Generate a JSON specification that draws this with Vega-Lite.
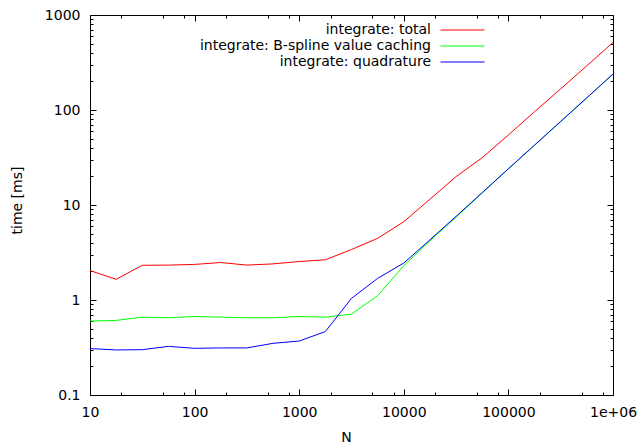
{
  "$schema": "https://vega.github.io/schema/vega-lite/v6.json",
  "width": 523,
  "height": 380,
  "autosize": {"type": "none"},
  "padding": {"left": 90, "top": 15, "right": 26, "bottom": 49},
  "background": "white",
  "config": {
    "view": {"stroke": "#000000", "strokeWidth": 1},
    "font": "DejaVu Sans",
    "axis": {"grid": false, "domain": false, "tickColor": "#000000", "labelColor": "#000000", "titleColor": "#000000", "labelFont": "DejaVu Sans", "titleFont": "DejaVu Sans", "labelFontSize": 14, "titleFontSize": 14, "titleFontWeight": "normal", "labelOverlap": false, "labelFlush": false, "labelBound": false},
    "legend": {"labelFont": "DejaVu Sans", "labelFontSize": 14, "labelColor": "#000000"}
  },
  "data": {
    "values": [
      {"N": 10, "t": 2.04, "s": "integrate: total"},
      {"N": 17.78, "t": 1.65, "s": "integrate: total"},
      {"N": 31.62, "t": 2.32, "s": "integrate: total"},
      {"N": 56.23, "t": 2.33, "s": "integrate: total"},
      {"N": 100, "t": 2.37, "s": "integrate: total"},
      {"N": 177.8, "t": 2.48, "s": "integrate: total"},
      {"N": 316.2, "t": 2.33, "s": "integrate: total"},
      {"N": 562.3, "t": 2.4, "s": "integrate: total"},
      {"N": 1000, "t": 2.54, "s": "integrate: total"},
      {"N": 1778, "t": 2.65, "s": "integrate: total"},
      {"N": 3162, "t": 3.4, "s": "integrate: total"},
      {"N": 5623, "t": 4.46, "s": "integrate: total"},
      {"N": 10000, "t": 6.67, "s": "integrate: total"},
      {"N": 17783, "t": 11.5, "s": "integrate: total"},
      {"N": 31623, "t": 19.9, "s": "integrate: total"},
      {"N": 56234, "t": 31.5, "s": "integrate: total"},
      {"N": 100000, "t": 54.6, "s": "integrate: total"},
      {"N": 177828, "t": 96, "s": "integrate: total"},
      {"N": 316228, "t": 167, "s": "integrate: total"},
      {"N": 562341, "t": 292, "s": "integrate: total"},
      {"N": 1000000, "t": 515, "s": "integrate: total"},
      {"N": 10, "t": 0.60, "s": "integrate: B-spline value caching"},
      {"N": 17.78, "t": 0.61, "s": "integrate: B-spline value caching"},
      {"N": 31.62, "t": 0.66, "s": "integrate: B-spline value caching"},
      {"N": 56.23, "t": 0.65, "s": "integrate: B-spline value caching"},
      {"N": 100, "t": 0.67, "s": "integrate: B-spline value caching"},
      {"N": 177.8, "t": 0.66, "s": "integrate: B-spline value caching"},
      {"N": 316.2, "t": 0.65, "s": "integrate: B-spline value caching"},
      {"N": 562.3, "t": 0.65, "s": "integrate: B-spline value caching"},
      {"N": 1000, "t": 0.67, "s": "integrate: B-spline value caching"},
      {"N": 1778, "t": 0.66, "s": "integrate: B-spline value caching"},
      {"N": 3162, "t": 0.71, "s": "integrate: B-spline value caching"},
      {"N": 5623, "t": 1.11, "s": "integrate: B-spline value caching"},
      {"N": 10000, "t": 2.3, "s": "integrate: B-spline value caching"},
      {"N": 17783, "t": 4.2, "s": "integrate: B-spline value caching"},
      {"N": 31623, "t": 7.45, "s": "integrate: B-spline value caching"},
      {"N": 56234, "t": 13.4, "s": "integrate: B-spline value caching"},
      {"N": 100000, "t": 24, "s": "integrate: B-spline value caching"},
      {"N": 177828, "t": 42.6, "s": "integrate: B-spline value caching"},
      {"N": 316228, "t": 75.6, "s": "integrate: B-spline value caching"},
      {"N": 562341, "t": 134, "s": "integrate: B-spline value caching"},
      {"N": 1000000, "t": 239, "s": "integrate: B-spline value caching"},
      {"N": 10, "t": 0.308, "s": "integrate: quadrature"},
      {"N": 17.78, "t": 0.298, "s": "integrate: quadrature"},
      {"N": 31.62, "t": 0.30, "s": "integrate: quadrature"},
      {"N": 56.23, "t": 0.325, "s": "integrate: quadrature"},
      {"N": 100, "t": 0.31, "s": "integrate: quadrature"},
      {"N": 177.8, "t": 0.313, "s": "integrate: quadrature"},
      {"N": 316.2, "t": 0.313, "s": "integrate: quadrature"},
      {"N": 562.3, "t": 0.35, "s": "integrate: quadrature"},
      {"N": 1000, "t": 0.37, "s": "integrate: quadrature"},
      {"N": 1778, "t": 0.465, "s": "integrate: quadrature"},
      {"N": 3162, "t": 1.04, "s": "integrate: quadrature"},
      {"N": 5623, "t": 1.69, "s": "integrate: quadrature"},
      {"N": 10000, "t": 2.45, "s": "integrate: quadrature"},
      {"N": 17783, "t": 4.3, "s": "integrate: quadrature"},
      {"N": 31623, "t": 7.6, "s": "integrate: quadrature"},
      {"N": 56234, "t": 13.5, "s": "integrate: quadrature"},
      {"N": 100000, "t": 24.1, "s": "integrate: quadrature"},
      {"N": 177828, "t": 42.7, "s": "integrate: quadrature"},
      {"N": 316228, "t": 75.8, "s": "integrate: quadrature"},
      {"N": 562341, "t": 134.5, "s": "integrate: quadrature"},
      {"N": 1000000, "t": 239, "s": "integrate: quadrature"}
    ]
  },
  "layer": [
    {
      "mark": {"type": "line", "strokeWidth": 1, "clip": true},
      "encoding": {
        "x": {
          "field": "N", "type": "quantitative",
          "scale": {"type": "log", "domain": [10, 1000000], "nice": false},
          "axis": {
            "orient": "bottom", "title": "N", "titlePadding": 8, "titleX": 256,
            "values": [10, 20, 50, 80, 100, 200, 500, 800, 1000, 2000, 5000, 8000, 10000, 20000, 50000, 80000, 100000, 200000, 500000, 800000, 1000000],
            "labelExpr": "indexof([10,100,1000,10000,100000], datum.value) >= 0 ? format(datum.value, 'd') : (datum.value == 1000000 ? '1e+06' : '')",
            "tickSize": {"condition": {"test": "indexof([10,100,1000,10000,100000,1000000], datum.value) >= 0", "value": -6}, "value": -3},
            "labelPadding": 16
          }
        },
        "y": {
          "field": "t", "type": "quantitative",
          "scale": {"type": "log", "domain": [0.1, 1000], "nice": false},
          "axis": {
            "orient": "left", "title": "time [ms]", "titlePadding": 20, "titleY": 185,
            "values": [0.1, 0.2, 0.3, 0.4, 0.5, 0.6, 0.7, 0.8, 0.9, 1, 2, 3, 4, 5, 6, 7, 8, 9, 10, 20, 30, 40, 50, 60, 70, 80, 90, 100, 200, 300, 400, 500, 600, 700, 800, 900, 1000],
            "labelExpr": "datum.value == 0.1 ? '0.1' : (indexof([1,10,100,1000], datum.value) >= 0 ? format(datum.value, 'd') : '')",
            "tickSize": {"condition": {"test": "indexof([0.1,1,10,100,1000], datum.value) >= 0", "value": -6}, "value": -3},
            "labelPadding": 16
          }
        },
        "color": {
          "field": "s", "type": "nominal",
          "scale": {"domain": ["integrate: total", "integrate: B-spline value caching", "integrate: quadrature"], "range": ["#ff0000", "#00ff00", "#0000ff"]},
          "legend": {
            "title": null, "orient": "none", "legendX": 365.5, "legendY": 8,
            "symbolType": "M-4,0H4", "symbolSize": 121, "symbolStrokeWidth": 1, "symbolFillColor": "transparent",
            "labelAlign": "right", "labelOffset": -38.5, "rowPadding": 2, "labelLimit": 400
          }
        }
      }
    },
    {
      "mark": {"type": "point", "opacity": 0},
      "encoding": {
        "x": {
          "field": "N", "type": "quantitative",
          "axis": {
            "orient": "top", "title": null, "labels": false,
            "values": [10, 20, 50, 80, 100, 200, 500, 800, 1000, 2000, 5000, 8000, 10000, 20000, 50000, 80000, 100000, 200000, 500000, 800000, 1000000],
            "tickSize": {"condition": {"test": "indexof([10,100,1000,10000,100000,1000000], datum.value) >= 0", "value": -6}, "value": -3}
          }
        },
        "y": {
          "field": "t", "type": "quantitative",
          "axis": {
            "orient": "right", "title": null, "labels": false,
            "values": [0.1, 0.2, 0.3, 0.4, 0.5, 0.6, 0.7, 0.8, 0.9, 1, 2, 3, 4, 5, 6, 7, 8, 9, 10, 20, 30, 40, 50, 60, 70, 80, 90, 100, 200, 300, 400, 500, 600, 700, 800, 900, 1000],
            "tickSize": {"condition": {"test": "indexof([0.1,1,10,100,1000], datum.value) >= 0", "value": -6}, "value": -3}
          }
        }
      }
    }
  ]
}
